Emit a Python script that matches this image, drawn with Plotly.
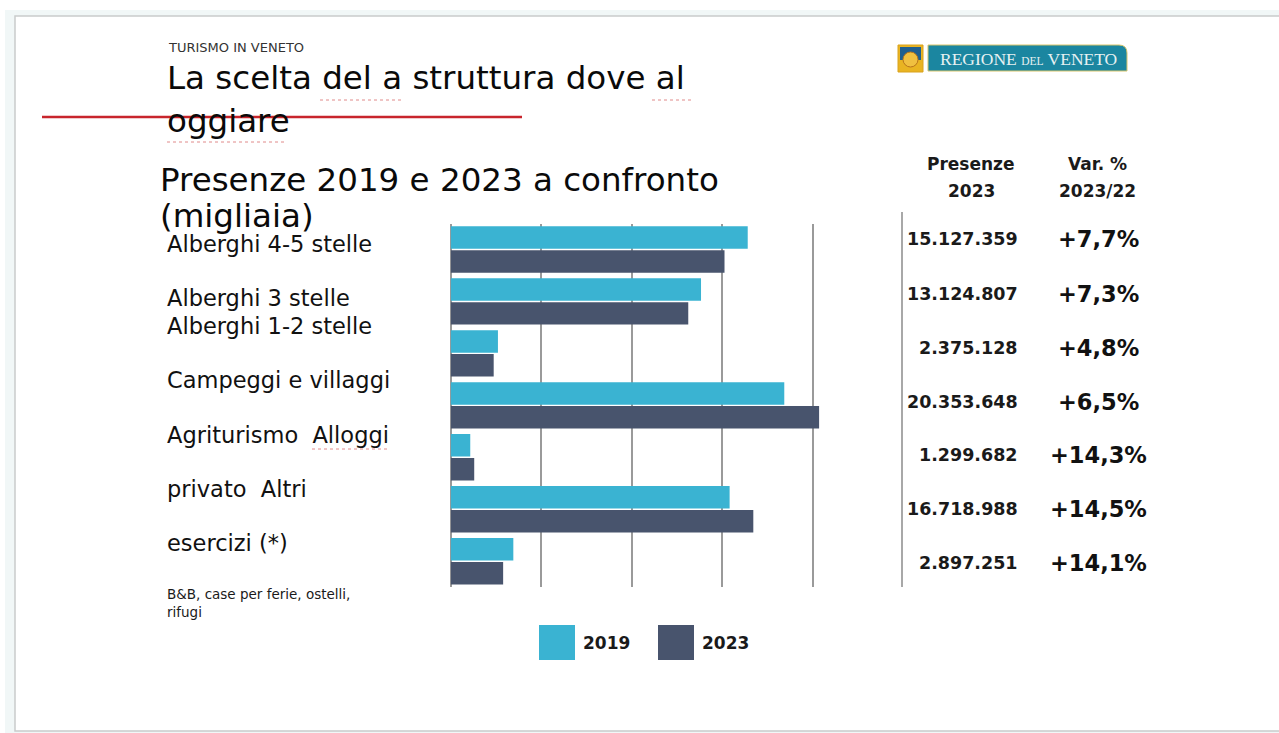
import plotly.graph_objects as go

# Presenze per tipologia di struttura ricettiva (migliaia)
categories = [
    "Alberghi 4-5 stelle",
    "Alberghi 3 stelle",
    "Alberghi 1-2 stelle",
    "Campeggi e villaggi",
    "Agriturismo",
    "Alloggi privato",
    "Altri esercizi (*)",
]
values_2019 = [16410, 13830, 2610, 18430, 1080, 15410, 3460]
values_2023 = [15127.359, 13124.807, 2375.128, 20353.648, 1299.682, 16718.988, 2897.251]

presenze_2023_labels = ["15.127.359", "13.124.807", "2.375.128", "20.353.648",
                        "1.299.682", "16.718.988", "2.897.251"]
var_pct_labels = ["+7,7%", "+7,3%", "+4,8%", "+6,5%", "+14,3%", "+14,5%", "+14,1%"]

# Etichette a sinistra, come impaginate nella slide
left_labels = ["Alberghi 4-5 stelle", "Alberghi 3 stelle", "Alberghi 1-2 stelle",
               "Campeggi e villaggi", "Agriturismo  Alloggi", "privato  Altri",
               "esercizi (*)"]
left_label_y = [244, 298, 326, 380, 435, 489, 543]

x_ticks = [0, 5000, 10000, 15000, 20000]

COL_2019 = "#3AB3D2"
COL_2023 = "#48546D"
FONT = "DejaVu Sans"

W, H = 1279, 733


def px(x):
    return x / W


def py(y):
    return 1 - y / H


fig = go.Figure()
fig.add_trace(go.Bar(y=categories, x=values_2019, orientation="h", name="2019",
                     marker=dict(color=COL_2019, line=dict(width=0))))
fig.add_trace(go.Bar(y=categories, x=values_2023, orientation="h", name="2023",
                     marker=dict(color=COL_2023, line=dict(width=0))))

x_max = 22000
px_per_unit = 90.5 / 5000
x_left = 450.7
x_right = x_left + x_max * px_per_unit

shapes = []
annotations = []

# cornice della slide
shapes.append(dict(type="rect", xref="paper", yref="paper", layer="below",
                   x0=px(5), x1=px(1290), y0=py(733), y1=py(10),
                   fillcolor="#f1f7f7", line=dict(width=0)))
shapes.append(dict(type="rect", xref="paper", yref="paper", layer="below",
                   x0=px(15), x1=px(1290), y0=py(731), y1=py(16),
                   fillcolor="white", line=dict(color="#c9cccc", width=1.5)))

# intestazione
annotations.append(dict(text="TURISMO IN VENETO", x=px(166), y=py(48), xref="paper", yref="paper",
                        xanchor="left", yanchor="middle", showarrow=False,
                        font=dict(family=FONT, size=13, color="#333333")))
annotations.append(dict(text="La scelta del a struttura dove al", x=px(165), y=py(78),
                        xref="paper", yref="paper", xanchor="left", yanchor="middle",
                        showarrow=False, font=dict(family=FONT, size=32.5, color="#0a0a0a")))
annotations.append(dict(text="oggiare", x=px(165), y=py(121),
                        xref="paper", yref="paper", xanchor="left", yanchor="middle",
                        showarrow=False, font=dict(family=FONT, size=32.5, color="#0a0a0a")))
shapes.append(dict(type="line", xref="paper", yref="paper",
                   x0=px(42), x1=px(522), y0=py(117), y1=py(117),
                   line=dict(color="#c8252c", width=2.5)))
# sottolineature del correttore ortografico
for x0, x1, yy in [(320, 402, 100), (652, 694, 100), (167, 286, 142), (312, 387, 449)]:
    shapes.append(dict(type="line", xref="paper", yref="paper",
                       x0=px(x0), x1=px(x1), y0=py(yy), y1=py(yy),
                       line=dict(color="#e08a8a", width=1, dash="dot")))

annotations.append(dict(text="Presenze 2019 e 2023 a confronto", x=px(158), y=py(180),
                        xref="paper", yref="paper", xanchor="left", yanchor="middle",
                        showarrow=False, font=dict(family=FONT, size=32.5, color="#0a0a0a")))
annotations.append(dict(text="(migliaia)", x=px(158), y=py(216),
                        xref="paper", yref="paper", xanchor="left", yanchor="middle",
                        showarrow=False, font=dict(family=FONT, size=32.5, color="#0a0a0a")))

# etichette delle categorie
for lab, yy in zip(left_labels, left_label_y):
    annotations.append(dict(text=lab, x=px(165), y=py(yy), xref="paper", yref="paper",
                            xanchor="left", yanchor="middle", showarrow=False,
                            font=dict(family=FONT, size=22.5, color="#111111")))
annotations.append(dict(text="B&B, case per ferie, ostelli,<br>rifugi", x=px(165), y=py(603),
                        xref="paper", yref="paper", xanchor="left", yanchor="middle",
                        align="left", showarrow=False,
                        font=dict(family=FONT, size=13.5, color="#1a1a1a")))

# logo Regione del Veneto
shapes.append(dict(type="rect", xref="paper", yref="paper",
                   x0=px(898), x1=px(923), y0=py(72), y1=py(45),
                   fillcolor="#e9b422", line=dict(color="#d9a21c", width=1)))
shapes.append(dict(type="rect", xref="paper", yref="paper",
                   x0=px(900), x1=px(921), y0=py(60), y1=py(47),
                   fillcolor="#1f5f8f", line=dict(width=0)))
shapes.append(dict(type="circle", xref="paper", yref="paper",
                   x0=px(903), x1=px(918), y0=py(67), y1=py(52),
                   fillcolor="#f0c040", line=dict(color="#b8741a", width=1)))
shapes.append(dict(type="path", xref="paper", yref="paper",
                   path=(f"M {px(928)} {py(71)} L {px(1127)} {py(71)} L {px(1127)} {py(53)} "
                         f"Q {px(1127)} {py(45)} {px(1119)} {py(45)} L {px(928)} {py(45)} Z"),
                   fillcolor="#1b86a0", line=dict(color="#d8c46a", width=1)))
annotations.append(dict(text="REGIONE <span style='font-size:11.5px'>DEL</span> VENETO",
                        x=px(1028), y=py(58.5), xref="paper", yref="paper",
                        xanchor="center", yanchor="middle", showarrow=False,
                        font=dict(family="Liberation Serif", size=17.5, color="#e6f1f2")))

# tabella a destra
TAB_FONT = dict(family=FONT, size=17, color="#1a1a1a", weight="bold")
for txt, xx, yy in [("Presenze", 971, 164), ("2023", 971, 191),
                    ("Var. %", 1097, 164), ("2023/22", 1097, 191)]:
    annotations.append(dict(text=txt, x=px(xx), y=py(yy), xref="paper", yref="paper",
                            xanchor="center", yanchor="middle", showarrow=False,
                            font=TAB_FONT))
row_y = [239, 294, 348, 402, 455, 509, 563]
for lab, pct, yy in zip(presenze_2023_labels, var_pct_labels, row_y):
    annotations.append(dict(text=lab, x=px(1020), y=py(yy), xref="paper", yref="paper",
                            xanchor="right", yanchor="middle", showarrow=False,
                            font=dict(family=FONT, size=17.5, color="#1a1a1a", weight="bold")))
    annotations.append(dict(text=pct, x=px(1098), y=py(yy), xref="paper", yref="paper",
                            xanchor="center", yanchor="middle", showarrow=False,
                            font=dict(family=FONT, size=22.5, color="#111111", weight="bold")))
shapes.append(dict(type="line", xref="paper", yref="paper",
                   x0=px(902), x1=px(902), y0=py(212), y1=py(587),
                   line=dict(color="#a8a8a8", width=2)))

# legenda
for xx, col, txt in [(539, COL_2019, "2019"), (658, COL_2023, "2023")]:
    shapes.append(dict(type="rect", xref="paper", yref="paper",
                       x0=px(xx), x1=px(xx + 36), y0=py(660), y1=py(625),
                       fillcolor=col, line=dict(width=0)))
    annotations.append(dict(text=txt, x=px(xx + 42), y=py(643), xref="paper", yref="paper",
                            xanchor="left", yanchor="middle", showarrow=False,
                            font=dict(family=FONT, size=17, color="#1a1a1a", weight="bold")))

fig.update_layout(
    width=W, height=H,
    margin=dict(l=0, r=0, t=0, b=0),
    paper_bgcolor="white", plot_bgcolor="rgba(0,0,0,0)",
    barmode="group", bargap=0.08, bargroupgap=0.06,
    showlegend=False,
    xaxis=dict(domain=[px(x_left), px(x_right)], range=[0, x_max],
               tickvals=x_ticks, showticklabels=False, showgrid=True,
               gridcolor="#9a9a9a", gridwidth=1.5, zeroline=True,
               zerolinecolor="#9a9a9a", zerolinewidth=1.5, showline=False),
    yaxis=dict(domain=[py(587.2), py(223.5)], autorange="reversed",
               showticklabels=False, showgrid=False, zeroline=False, showline=False),
    shapes=shapes,
    annotations=annotations,
)

fig.write_html("out.html")
